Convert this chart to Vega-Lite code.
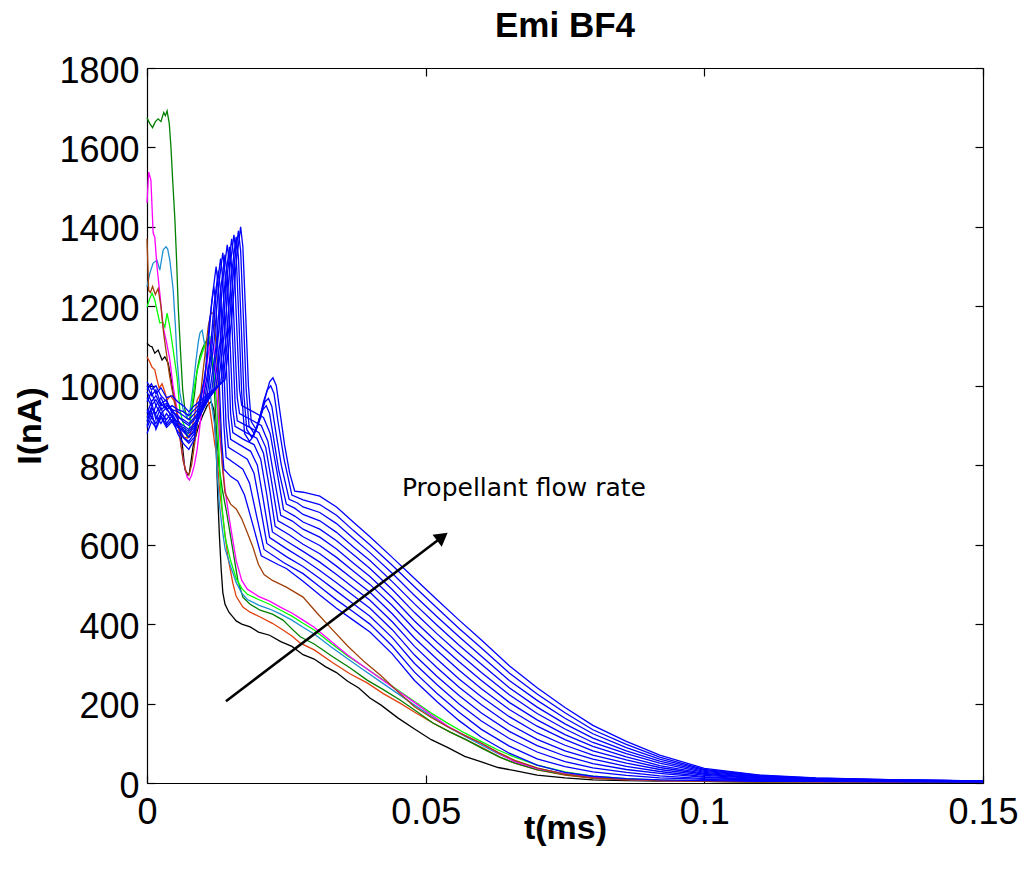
{
"$schema": "https://vega.github.io/schema/vega-lite/v6.json",
"width": 836, "height": 715,
"autosize": {"type": "none"},
"padding": {"left": 147, "top": 68, "right": 41, "bottom": 84},
"background": "white",
"title": {"text": "Emi BF4", "fontSize": 35, "fontWeight": "bold", "font": "Liberation Sans", "color": "black", "offset": 9, "anchor": "middle"},
"datasets": {
"curves": [
{"s":"k","t":0,"v":1107},{"s":"k","t":0.0005,"v":1100},{"s":"k","t":0.0009,"v":1098},{"s":"k","t":0.0014,"v":1082},{"s":"k","t":0.002,"v":1090},{"s":"k","t":0.0027,"v":1065},{"s":"k","t":0.0032,"v":1073},{"s":"k","t":0.0038,"v":1057},{"s":"k","t":0.0043,"v":1020},{"s":"k","t":0.0047,"v":982},{"s":"k","t":0.0052,"v":950},{"s":"k","t":0.0056,"v":914},{"s":"k","t":0.0063,"v":856},{"s":"k","t":0.0068,"v":790},{"s":"k","t":0.0072,"v":775},{"s":"k","t":0.0076,"v":780},{"s":"k","t":0.0083,"v":850},{"s":"k","t":0.0092,"v":896},{"s":"k","t":0.01,"v":925},{"s":"k","t":0.0108,"v":950},{"s":"k","t":0.0115,"v":960},{"s":"k","t":0.012,"v":940},{"s":"k","t":0.0124,"v":850},{"s":"k","t":0.0127,"v":720},{"s":"k","t":0.013,"v":620},{"s":"k","t":0.0133,"v":540},{"s":"k","t":0.0136,"v":480},{"s":"k","t":0.014,"v":450},{"s":"k","t":0.0147,"v":430},{"s":"k","t":0.0154,"v":418},{"s":"k","t":0.016,"v":408},{"s":"k","t":0.017,"v":400},{"s":"k","t":0.0185,"v":393},{"s":"k","t":0.02,"v":380},{"s":"k","t":0.022,"v":372},{"s":"k","t":0.024,"v":356},{"s":"k","t":0.026,"v":344},{"s":"k","t":0.028,"v":323},{"s":"k","t":0.03,"v":312},{"s":"k","t":0.032,"v":293},{"s":"k","t":0.034,"v":278},{"s":"k","t":0.036,"v":256},{"s":"k","t":0.038,"v":239},{"s":"k","t":0.04,"v":214},{"s":"k","t":0.042,"v":196},{"s":"k","t":0.045,"v":164},{"s":"k","t":0.048,"v":136},{"s":"k","t":0.051,"v":109},{"s":"k","t":0.054,"v":89},{"s":"k","t":0.057,"v":67},{"s":"k","t":0.06,"v":53},{"s":"k","t":0.063,"v":39},{"s":"k","t":0.066,"v":31},{"s":"k","t":0.07,"v":20},{"s":"k","t":0.075,"v":13},{"s":"k","t":0.08,"v":8},{"s":"k","t":0.086,"v":6},{"s":"k","t":0.092,"v":5},{"s":"k","t":0.1,"v":4},{"s":"k","t":0.11,"v":3},{"s":"k","t":0.12,"v":3},{"s":"k","t":0.135,"v":2},{"s":"k","t":0.15,"v":2},
{"s":"r","t":0,"v":1073},{"s":"r","t":0.0005,"v":1060},{"s":"r","t":0.0009,"v":1047},{"s":"r","t":0.0014,"v":1040},{"s":"r","t":0.0018,"v":1015},{"s":"r","t":0.0022,"v":994},{"s":"r","t":0.0027,"v":1005},{"s":"r","t":0.0032,"v":985},{"s":"r","t":0.0036,"v":964},{"s":"r","t":0.0042,"v":975},{"s":"r","t":0.0048,"v":964},{"s":"r","t":0.0054,"v":930},{"s":"r","t":0.0059,"v":889},{"s":"r","t":0.0066,"v":871},{"s":"r","t":0.0072,"v":868},{"s":"r","t":0.0078,"v":880},{"s":"r","t":0.0084,"v":915},{"s":"r","t":0.009,"v":964},{"s":"r","t":0.0096,"v":980},{"s":"r","t":0.0102,"v":989},{"s":"r","t":0.0108,"v":975},{"s":"r","t":0.0113,"v":939},{"s":"r","t":0.0118,"v":890},{"s":"r","t":0.0122,"v":850},{"s":"r","t":0.0126,"v":820},{"s":"r","t":0.013,"v":740},{"s":"r","t":0.0136,"v":670},{"s":"r","t":0.0145,"v":570},{"s":"r","t":0.0154,"v":503},{"s":"r","t":0.016,"v":470},{"s":"r","t":0.0172,"v":443},{"s":"r","t":0.0185,"v":430},{"s":"r","t":0.0203,"v":418},{"s":"r","t":0.0225,"v":402},{"s":"r","t":0.0244,"v":385},{"s":"r","t":0.026,"v":370},{"s":"r","t":0.0275,"v":352},{"s":"r","t":0.03,"v":335},{"s":"r","t":0.0334,"v":302},{"s":"r","t":0.0364,"v":275},{"s":"r","t":0.0395,"v":252},{"s":"r","t":0.0424,"v":225},{"s":"r","t":0.0454,"v":201},{"s":"r","t":0.0484,"v":175},{"s":"r","t":0.0513,"v":151},{"s":"r","t":0.0544,"v":128},{"s":"r","t":0.0574,"v":108},{"s":"r","t":0.0603,"v":88},{"s":"r","t":0.0633,"v":65},{"s":"r","t":0.066,"v":50},{"s":"r","t":0.07,"v":33},{"s":"r","t":0.075,"v":20},{"s":"r","t":0.08,"v":12},{"s":"r","t":0.086,"v":8},{"s":"r","t":0.092,"v":6},{"s":"r","t":0.1,"v":4},{"s":"r","t":0.11,"v":3},{"s":"r","t":0.12,"v":3},{"s":"r","t":0.135,"v":2},{"s":"r","t":0.15,"v":2},
{"s":"g","t":0,"v":1675},{"s":"g","t":0.0005,"v":1660},{"s":"g","t":0.001,"v":1650},{"s":"g","t":0.0015,"v":1665},{"s":"g","t":0.002,"v":1672},{"s":"g","t":0.0025,"v":1665},{"s":"g","t":0.003,"v":1688},{"s":"g","t":0.0033,"v":1680},{"s":"g","t":0.0036,"v":1692},{"s":"g","t":0.004,"v":1660},{"s":"g","t":0.0043,"v":1600},{"s":"g","t":0.0046,"v":1520},{"s":"g","t":0.005,"v":1420},{"s":"g","t":0.0053,"v":1320},{"s":"g","t":0.0056,"v":1200},{"s":"g","t":0.006,"v":1090},{"s":"g","t":0.0064,"v":990},{"s":"g","t":0.0068,"v":940},{"s":"g","t":0.0072,"v":918},{"s":"g","t":0.0076,"v":915},{"s":"g","t":0.008,"v":935},{"s":"g","t":0.0085,"v":975},{"s":"g","t":0.009,"v":1040},{"s":"g","t":0.0095,"v":1075},{"s":"g","t":0.01,"v":1095},{"s":"g","t":0.0105,"v":1110},{"s":"g","t":0.011,"v":1120},{"s":"g","t":0.0115,"v":1090},{"s":"g","t":0.012,"v":1010},{"s":"g","t":0.0125,"v":880},{"s":"g","t":0.0129,"v":800},{"s":"g","t":0.0135,"v":740},{"s":"g","t":0.0143,"v":680},{"s":"g","t":0.0154,"v":587},{"s":"g","t":0.0163,"v":510},{"s":"g","t":0.0172,"v":468},{"s":"g","t":0.0185,"v":450},{"s":"g","t":0.0203,"v":435},{"s":"g","t":0.0225,"v":425},{"s":"g","t":0.0244,"v":410},{"s":"g","t":0.026,"v":388},{"s":"g","t":0.0275,"v":368},{"s":"g","t":0.03,"v":350},{"s":"g","t":0.0334,"v":317},{"s":"g","t":0.0364,"v":290},{"s":"g","t":0.0395,"v":259},{"s":"g","t":0.0424,"v":235},{"s":"g","t":0.0454,"v":209},{"s":"g","t":0.0484,"v":180},{"s":"g","t":0.0513,"v":151},{"s":"g","t":0.0544,"v":128},{"s":"g","t":0.0574,"v":108},{"s":"g","t":0.0603,"v":86},{"s":"g","t":0.0633,"v":65},{"s":"g","t":0.066,"v":50},{"s":"g","t":0.07,"v":34},{"s":"g","t":0.075,"v":21},{"s":"g","t":0.08,"v":13},{"s":"g","t":0.086,"v":9},{"s":"g","t":0.092,"v":6},{"s":"g","t":0.1,"v":4},{"s":"g","t":0.11,"v":3},{"s":"g","t":0.12,"v":3},{"s":"g","t":0.135,"v":2},{"s":"g","t":0.15,"v":2},
{"s":"c","t":0,"v":1249},{"s":"c","t":0.0005,"v":1283},{"s":"c","t":0.0011,"v":1309},{"s":"c","t":0.0018,"v":1316},{"s":"c","t":0.0023,"v":1291},{"s":"c","t":0.0029,"v":1342},{"s":"c","t":0.0034,"v":1350},{"s":"c","t":0.0037,"v":1345},{"s":"c","t":0.0041,"v":1316},{"s":"c","t":0.0047,"v":1241},{"s":"c","t":0.0051,"v":1150},{"s":"c","t":0.0054,"v":1065},{"s":"c","t":0.0059,"v":982},{"s":"c","t":0.0065,"v":939},{"s":"c","t":0.0072,"v":922},{"s":"c","t":0.0077,"v":935},{"s":"c","t":0.0083,"v":1000},{"s":"c","t":0.0088,"v":1065},{"s":"c","t":0.0092,"v":1110},{"s":"c","t":0.0095,"v":1133},{"s":"c","t":0.0099,"v":1140},{"s":"c","t":0.0104,"v":1098},{"s":"c","t":0.0113,"v":982},{"s":"c","t":0.0122,"v":896},{"s":"c","t":0.0126,"v":780},{"s":"c","t":0.013,"v":700},{"s":"c","t":0.0135,"v":640},{"s":"c","t":0.014,"v":590},{"s":"c","t":0.015,"v":545},{"s":"c","t":0.016,"v":505},{"s":"c","t":0.017,"v":478},{"s":"c","t":0.018,"v":462},{"s":"c","t":0.02,"v":448},{"s":"c","t":0.022,"v":438},{"s":"c","t":0.024,"v":425},{"s":"c","t":0.026,"v":410},{"s":"c","t":0.028,"v":392},{"s":"c","t":0.03,"v":375},{"s":"c","t":0.033,"v":343},{"s":"c","t":0.036,"v":313},{"s":"c","t":0.039,"v":283},{"s":"c","t":0.042,"v":254},{"s":"c","t":0.045,"v":225},{"s":"c","t":0.048,"v":196},{"s":"c","t":0.051,"v":168},{"s":"c","t":0.054,"v":141},{"s":"c","t":0.057,"v":118},{"s":"c","t":0.06,"v":96},{"s":"c","t":0.063,"v":74},{"s":"c","t":0.066,"v":55},{"s":"c","t":0.07,"v":37},{"s":"c","t":0.075,"v":23},{"s":"c","t":0.08,"v":14},{"s":"c","t":0.086,"v":9},{"s":"c","t":0.092,"v":6},{"s":"c","t":0.1,"v":5},{"s":"c","t":0.11,"v":4},{"s":"c","t":0.12,"v":3},{"s":"c","t":0.135,"v":3},{"s":"c","t":0.15,"v":2},
{"s":"l","t":0,"v":1198},{"s":"l","t":0.0005,"v":1220},{"s":"l","t":0.0009,"v":1233},{"s":"l","t":0.0014,"v":1216},{"s":"l","t":0.0018,"v":1190},{"s":"l","t":0.0023,"v":1158},{"s":"l","t":0.0028,"v":1160},{"s":"l","t":0.0032,"v":1148},{"s":"l","t":0.0036,"v":1183},{"s":"l","t":0.0041,"v":1148},{"s":"l","t":0.0047,"v":1090},{"s":"l","t":0.0054,"v":1022},{"s":"l","t":0.0059,"v":939},{"s":"l","t":0.0064,"v":910},{"s":"l","t":0.0068,"v":896},{"s":"l","t":0.0072,"v":871},{"s":"l","t":0.0077,"v":900},{"s":"l","t":0.0083,"v":982},{"s":"l","t":0.0089,"v":1030},{"s":"l","t":0.0095,"v":1065},{"s":"l","t":0.0102,"v":1095},{"s":"l","t":0.0108,"v":1115},{"s":"l","t":0.0113,"v":1123},{"s":"l","t":0.0118,"v":1065},{"s":"l","t":0.0122,"v":1000},{"s":"l","t":0.0126,"v":939},{"s":"l","t":0.0131,"v":770},{"s":"l","t":0.0135,"v":690},{"s":"l","t":0.014,"v":620},{"s":"l","t":0.015,"v":560},{"s":"l","t":0.016,"v":515},{"s":"l","t":0.017,"v":490},{"s":"l","t":0.018,"v":475},{"s":"l","t":0.02,"v":462},{"s":"l","t":0.022,"v":450},{"s":"l","t":0.024,"v":435},{"s":"l","t":0.026,"v":420},{"s":"l","t":0.028,"v":402},{"s":"l","t":0.03,"v":385},{"s":"l","t":0.033,"v":352},{"s":"l","t":0.036,"v":320},{"s":"l","t":0.039,"v":292},{"s":"l","t":0.042,"v":263},{"s":"l","t":0.045,"v":234},{"s":"l","t":0.048,"v":205},{"s":"l","t":0.051,"v":176},{"s":"l","t":0.054,"v":150},{"s":"l","t":0.057,"v":126},{"s":"l","t":0.06,"v":104},{"s":"l","t":0.063,"v":83},{"s":"l","t":0.066,"v":65},{"s":"l","t":0.07,"v":45},{"s":"l","t":0.075,"v":28},{"s":"l","t":0.08,"v":17},{"s":"l","t":0.086,"v":11},{"s":"l","t":0.092,"v":7},{"s":"l","t":0.1,"v":5},{"s":"l","t":0.11,"v":4},{"s":"l","t":0.12,"v":3},{"s":"l","t":0.135,"v":3},{"s":"l","t":0.15,"v":2},
{"s":"m","t":0,"v":1460},{"s":"m","t":0.0003,"v":1538},{"s":"m","t":0.0007,"v":1518},{"s":"m","t":0.0011,"v":1385},{"s":"m","t":0.0014,"v":1374},{"s":"m","t":0.0018,"v":1299},{"s":"m","t":0.0023,"v":1233},{"s":"m","t":0.0029,"v":1148},{"s":"m","t":0.0035,"v":1110},{"s":"m","t":0.0041,"v":1065},{"s":"m","t":0.0047,"v":997},{"s":"m","t":0.0054,"v":939},{"s":"m","t":0.0059,"v":871},{"s":"m","t":0.0065,"v":813},{"s":"m","t":0.0072,"v":770},{"s":"m","t":0.0076,"v":763},{"s":"m","t":0.008,"v":775},{"s":"m","t":0.0085,"v":800},{"s":"m","t":0.009,"v":840},{"s":"m","t":0.0095,"v":900},{"s":"m","t":0.01,"v":960},{"s":"m","t":0.0105,"v":1030},{"s":"m","t":0.011,"v":1080},{"s":"m","t":0.0115,"v":1115},{"s":"m","t":0.012,"v":1100},{"s":"m","t":0.0125,"v":990},{"s":"m","t":0.013,"v":880},{"s":"m","t":0.0135,"v":810},{"s":"m","t":0.014,"v":740},{"s":"m","t":0.0145,"v":690},{"s":"m","t":0.015,"v":645},{"s":"m","t":0.016,"v":560},{"s":"m","t":0.017,"v":510},{"s":"m","t":0.018,"v":488},{"s":"m","t":0.02,"v":470},{"s":"m","t":0.022,"v":458},{"s":"m","t":0.024,"v":442},{"s":"m","t":0.026,"v":428},{"s":"m","t":0.028,"v":410},{"s":"m","t":0.03,"v":392},{"s":"m","t":0.033,"v":357},{"s":"m","t":0.036,"v":322},{"s":"m","t":0.039,"v":292},{"s":"m","t":0.042,"v":262},{"s":"m","t":0.045,"v":232},{"s":"m","t":0.048,"v":203},{"s":"m","t":0.051,"v":172},{"s":"m","t":0.054,"v":143},{"s":"m","t":0.057,"v":120},{"s":"m","t":0.06,"v":100},{"s":"m","t":0.063,"v":76},{"s":"m","t":0.066,"v":54},{"s":"m","t":0.07,"v":36},{"s":"m","t":0.075,"v":23},{"s":"m","t":0.08,"v":14},{"s":"m","t":0.086,"v":9},{"s":"m","t":0.092,"v":6},{"s":"m","t":0.1,"v":5},{"s":"m","t":0.11,"v":4},{"s":"m","t":0.12,"v":3},{"s":"m","t":0.135,"v":3},{"s":"m","t":0.15,"v":2},
{"s":"n","t":0,"v":1370},{"s":"n","t":0.0003,"v":1240},{"s":"n","t":0.0006,"v":1235},{"s":"n","t":0.001,"v":1250},{"s":"n","t":0.0015,"v":1230},{"s":"n","t":0.002,"v":1245},{"s":"n","t":0.0025,"v":1200},{"s":"n","t":0.003,"v":1130},{"s":"n","t":0.0035,"v":1080},{"s":"n","t":0.004,"v":1030},{"s":"n","t":0.0045,"v":990},{"s":"n","t":0.005,"v":960},{"s":"n","t":0.0055,"v":920},{"s":"n","t":0.006,"v":860},{"s":"n","t":0.0065,"v":810},{"s":"n","t":0.007,"v":785},{"s":"n","t":0.0075,"v":775},{"s":"n","t":0.008,"v":800},{"s":"n","t":0.0085,"v":850},{"s":"n","t":0.009,"v":900},{"s":"n","t":0.0095,"v":960},{"s":"n","t":0.01,"v":1030},{"s":"n","t":0.0105,"v":1090},{"s":"n","t":0.011,"v":1150},{"s":"n","t":0.0115,"v":1185},{"s":"n","t":0.012,"v":1180},{"s":"n","t":0.0125,"v":1080},{"s":"n","t":0.013,"v":930},{"s":"n","t":0.0135,"v":800},{"s":"n","t":0.014,"v":730},{"s":"n","t":0.015,"v":702},{"s":"n","t":0.016,"v":690},{"s":"n","t":0.017,"v":665},{"s":"n","t":0.018,"v":630},{"s":"n","t":0.019,"v":594},{"s":"n","t":0.02,"v":550},{"s":"n","t":0.021,"v":525},{"s":"n","t":0.0225,"v":510},{"s":"n","t":0.025,"v":493},{"s":"n","t":0.028,"v":468},{"s":"n","t":0.0305,"v":428},{"s":"n","t":0.033,"v":390},{"s":"n","t":0.036,"v":345},{"s":"n","t":0.039,"v":305},{"s":"n","t":0.042,"v":270},{"s":"n","t":0.045,"v":230},{"s":"n","t":0.048,"v":192},{"s":"n","t":0.051,"v":165},{"s":"n","t":0.054,"v":141},{"s":"n","t":0.057,"v":120},{"s":"n","t":0.06,"v":100},{"s":"n","t":0.063,"v":77},{"s":"n","t":0.066,"v":57},{"s":"n","t":0.07,"v":38},{"s":"n","t":0.075,"v":22},{"s":"n","t":0.08,"v":13},{"s":"n","t":0.086,"v":9},{"s":"n","t":0.092,"v":6},{"s":"n","t":0.1,"v":4},{"s":"n","t":0.11,"v":3},{"s":"n","t":0.12,"v":3},{"s":"n","t":0.135,"v":2},{"s":"n","t":0.15,"v":2},
{"s":"b01","t":0,"v":930},{"s":"b01","t":0.0008,"v":960},{"s":"b01","t":0.0016,"v":915},{"s":"b01","t":0.0025,"v":945},{"s":"b01","t":0.0035,"v":905},{"s":"b01","t":0.0045,"v":925},{"s":"b01","t":0.0055,"v":880},{"s":"b01","t":0.0065,"v":855},{"s":"b01","t":0.0075,"v":840},{"s":"b01","t":0.0085,"v":865},{"s":"b01","t":0.0092,"v":950},{"s":"b01","t":0.0104,"v":1020},{"s":"b01","t":0.0112,"v":1160},{"s":"b01","t":0.012,"v":1250},{"s":"b01","t":0.0124,"v":1200},{"s":"b01","t":0.0129,"v":1030},{"s":"b01","t":0.0134,"v":860},{"s":"b01","t":0.0138,"v":790},{"s":"b01","t":0.015,"v":772},{"s":"b01","t":0.0163,"v":760},{"s":"b01","t":0.0175,"v":725},{"s":"b01","t":0.019,"v":650},{"s":"b01","t":0.0205,"v":572},{"s":"b01","t":0.0235,"v":550},{"s":"b01","t":0.025,"v":540},{"s":"b01","t":0.028,"v":508},{"s":"b01","t":0.031,"v":473},{"s":"b01","t":0.034,"v":440},{"s":"b01","t":0.037,"v":410},{"s":"b01","t":0.04,"v":380},{"s":"b01","t":0.044,"v":325},{"s":"b01","t":0.048,"v":258},{"s":"b01","t":0.052,"v":205},{"s":"b01","t":0.056,"v":157},{"s":"b01","t":0.06,"v":115},{"s":"b01","t":0.065,"v":75},{"s":"b01","t":0.07,"v":45},{"s":"b01","t":0.075,"v":27},{"s":"b01","t":0.08,"v":17},{"s":"b01","t":0.086,"v":11},{"s":"b01","t":0.092,"v":8},{"s":"b01","t":0.1,"v":6},{"s":"b01","t":0.11,"v":4},{"s":"b01","t":0.12,"v":4},{"s":"b01","t":0.135,"v":3},{"s":"b01","t":0.15,"v":3},
{"s":"b02","t":0,"v":1000},{"s":"b02","t":0.0008,"v":975},{"s":"b02","t":0.0016,"v":990},{"s":"b02","t":0.0025,"v":955},{"s":"b02","t":0.0035,"v":965},{"s":"b02","t":0.0045,"v":930},{"s":"b02","t":0.0055,"v":905},{"s":"b02","t":0.0065,"v":870},{"s":"b02","t":0.0075,"v":855},{"s":"b02","t":0.0085,"v":870},{"s":"b02","t":0.0096,"v":955},{"s":"b02","t":0.0108,"v":1070},{"s":"b02","t":0.0116,"v":1210},{"s":"b02","t":0.0124,"v":1300},{"s":"b02","t":0.0128,"v":1250},{"s":"b02","t":0.0133,"v":1080},{"s":"b02","t":0.0138,"v":900},{"s":"b02","t":0.0142,"v":820},{"s":"b02","t":0.0157,"v":805},{"s":"b02","t":0.0172,"v":790},{"s":"b02","t":0.0184,"v":755},{"s":"b02","t":0.0197,"v":670},{"s":"b02","t":0.021,"v":588},{"s":"b02","t":0.0245,"v":555},{"s":"b02","t":0.028,"v":527},{"s":"b02","t":0.031,"v":494},{"s":"b02","t":0.034,"v":461},{"s":"b02","t":0.037,"v":431},{"s":"b02","t":0.04,"v":400},{"s":"b02","t":0.044,"v":345},{"s":"b02","t":0.048,"v":279},{"s":"b02","t":0.052,"v":226},{"s":"b02","t":0.056,"v":178},{"s":"b02","t":0.06,"v":135},{"s":"b02","t":0.065,"v":93},{"s":"b02","t":0.07,"v":61},{"s":"b02","t":0.075,"v":41},{"s":"b02","t":0.08,"v":28},{"s":"b02","t":0.086,"v":19},{"s":"b02","t":0.092,"v":13},{"s":"b02","t":0.1,"v":9},{"s":"b02","t":0.11,"v":5},{"s":"b02","t":0.12,"v":5},{"s":"b02","t":0.135,"v":4},{"s":"b02","t":0.15,"v":3},
{"s":"b03","t":0,"v":900},{"s":"b03","t":0.0008,"v":935},{"s":"b03","t":0.0016,"v":890},{"s":"b03","t":0.0025,"v":920},{"s":"b03","t":0.0035,"v":895},{"s":"b03","t":0.0045,"v":910},{"s":"b03","t":0.0055,"v":885},{"s":"b03","t":0.0065,"v":870},{"s":"b03","t":0.0075,"v":860},{"s":"b03","t":0.0085,"v":880},{"s":"b03","t":0.01,"v":960},{"s":"b03","t":0.0112,"v":1060},{"s":"b03","t":0.012,"v":1200},{"s":"b03","t":0.0128,"v":1290},{"s":"b03","t":0.0132,"v":1240},{"s":"b03","t":0.0137,"v":1070},{"s":"b03","t":0.0142,"v":900},{"s":"b03","t":0.0146,"v":845},{"s":"b03","t":0.0163,"v":830},{"s":"b03","t":0.018,"v":815},{"s":"b03","t":0.0192,"v":780},{"s":"b03","t":0.0204,"v":690},{"s":"b03","t":0.0215,"v":603},{"s":"b03","t":0.025,"v":570},{"s":"b03","t":0.028,"v":545},{"s":"b03","t":0.031,"v":515},{"s":"b03","t":0.034,"v":483},{"s":"b03","t":0.037,"v":451},{"s":"b03","t":0.04,"v":420},{"s":"b03","t":0.044,"v":366},{"s":"b03","t":0.048,"v":301},{"s":"b03","t":0.052,"v":248},{"s":"b03","t":0.056,"v":199},{"s":"b03","t":0.06,"v":156},{"s":"b03","t":0.065,"v":112},{"s":"b03","t":0.07,"v":78},{"s":"b03","t":0.075,"v":54},{"s":"b03","t":0.08,"v":38},{"s":"b03","t":0.086,"v":27},{"s":"b03","t":0.092,"v":18},{"s":"b03","t":0.1,"v":11},{"s":"b03","t":0.11,"v":7},{"s":"b03","t":0.12,"v":5},{"s":"b03","t":0.135,"v":4},{"s":"b03","t":0.15,"v":3},
{"s":"b04","t":0,"v":960},{"s":"b04","t":0.0008,"v":985},{"s":"b04","t":0.0016,"v":950},{"s":"b04","t":0.0025,"v":970},{"s":"b04","t":0.0035,"v":940},{"s":"b04","t":0.0045,"v":925},{"s":"b04","t":0.0055,"v":900},{"s":"b04","t":0.0065,"v":885},{"s":"b04","t":0.0075,"v":870},{"s":"b04","t":0.0085,"v":885},{"s":"b04","t":0.0104,"v":965},{"s":"b04","t":0.0116,"v":1090},{"s":"b04","t":0.0124,"v":1230},{"s":"b04","t":0.0132,"v":1320},{"s":"b04","t":0.0136,"v":1270},{"s":"b04","t":0.0141,"v":1100},{"s":"b04","t":0.0146,"v":920},{"s":"b04","t":0.015,"v":865},{"s":"b04","t":0.0168,"v":850},{"s":"b04","t":0.0186,"v":835},{"s":"b04","t":0.0198,"v":800},{"s":"b04","t":0.0209,"v":710},{"s":"b04","t":0.022,"v":618},{"s":"b04","t":0.025,"v":590},{"s":"b04","t":0.028,"v":564},{"s":"b04","t":0.031,"v":535},{"s":"b04","t":0.034,"v":504},{"s":"b04","t":0.037,"v":472},{"s":"b04","t":0.04,"v":440},{"s":"b04","t":0.044,"v":386},{"s":"b04","t":0.048,"v":322},{"s":"b04","t":0.052,"v":269},{"s":"b04","t":0.056,"v":220},{"s":"b04","t":0.06,"v":176},{"s":"b04","t":0.065,"v":130},{"s":"b04","t":0.07,"v":94},{"s":"b04","t":0.075,"v":68},{"s":"b04","t":0.08,"v":49},{"s":"b04","t":0.086,"v":34},{"s":"b04","t":0.092,"v":24},{"s":"b04","t":0.1,"v":14},{"s":"b04","t":0.11,"v":8},{"s":"b04","t":0.12,"v":6},{"s":"b04","t":0.135,"v":5},{"s":"b04","t":0.15,"v":4},
{"s":"b05","t":0,"v":880},{"s":"b05","t":0.0008,"v":910},{"s":"b05","t":0.0016,"v":895},{"s":"b05","t":0.0025,"v":925},{"s":"b05","t":0.0035,"v":900},{"s":"b05","t":0.0045,"v":915},{"s":"b05","t":0.0055,"v":895},{"s":"b05","t":0.0065,"v":890},{"s":"b05","t":0.0075,"v":880},{"s":"b05","t":0.0085,"v":895},{"s":"b05","t":0.0108,"v":975},{"s":"b05","t":0.012,"v":1105},{"s":"b05","t":0.0128,"v":1245},{"s":"b05","t":0.0136,"v":1335},{"s":"b05","t":0.014,"v":1285},{"s":"b05","t":0.0145,"v":1115},{"s":"b05","t":0.015,"v":930},{"s":"b05","t":0.0154,"v":882},{"s":"b05","t":0.0173,"v":865},{"s":"b05","t":0.0192,"v":852},{"s":"b05","t":0.0204,"v":815},{"s":"b05","t":0.0215,"v":725},{"s":"b05","t":0.0225,"v":632},{"s":"b05","t":0.0255,"v":605},{"s":"b05","t":0.028,"v":583},{"s":"b05","t":0.031,"v":556},{"s":"b05","t":0.034,"v":525},{"s":"b05","t":0.037,"v":492},{"s":"b05","t":0.04,"v":460},{"s":"b05","t":0.044,"v":406},{"s":"b05","t":0.048,"v":344},{"s":"b05","t":0.052,"v":291},{"s":"b05","t":0.056,"v":241},{"s":"b05","t":0.06,"v":197},{"s":"b05","t":0.065,"v":148},{"s":"b05","t":0.07,"v":110},{"s":"b05","t":0.075,"v":81},{"s":"b05","t":0.08,"v":60},{"s":"b05","t":0.086,"v":42},{"s":"b05","t":0.092,"v":29},{"s":"b05","t":0.1,"v":16},{"s":"b05","t":0.11,"v":9},{"s":"b05","t":0.12,"v":7},{"s":"b05","t":0.135,"v":5},{"s":"b05","t":0.15,"v":4},
{"s":"b06","t":0,"v":1010},{"s":"b06","t":0.0008,"v":990},{"s":"b06","t":0.0016,"v":1000},{"s":"b06","t":0.0025,"v":975},{"s":"b06","t":0.0035,"v":960},{"s":"b06","t":0.0045,"v":940},{"s":"b06","t":0.0055,"v":915},{"s":"b06","t":0.0065,"v":890},{"s":"b06","t":0.0075,"v":870},{"s":"b06","t":0.0085,"v":890},{"s":"b06","t":0.0112,"v":980},{"s":"b06","t":0.0124,"v":1100},{"s":"b06","t":0.0132,"v":1240},{"s":"b06","t":0.014,"v":1330},{"s":"b06","t":0.0144,"v":1280},{"s":"b06","t":0.0149,"v":1110},{"s":"b06","t":0.0154,"v":940},{"s":"b06","t":0.0158,"v":898},{"s":"b06","t":0.0178,"v":882},{"s":"b06","t":0.0197,"v":868},{"s":"b06","t":0.0209,"v":830},{"s":"b06","t":0.022,"v":740},{"s":"b06","t":0.023,"v":646},{"s":"b06","t":0.0255,"v":625},{"s":"b06","t":0.028,"v":601},{"s":"b06","t":0.031,"v":577},{"s":"b06","t":0.034,"v":546},{"s":"b06","t":0.037,"v":513},{"s":"b06","t":0.04,"v":480},{"s":"b06","t":0.044,"v":426},{"s":"b06","t":0.048,"v":365},{"s":"b06","t":0.052,"v":312},{"s":"b06","t":0.056,"v":262},{"s":"b06","t":0.06,"v":217},{"s":"b06","t":0.065,"v":167},{"s":"b06","t":0.07,"v":126},{"s":"b06","t":0.075,"v":95},{"s":"b06","t":0.08,"v":70},{"s":"b06","t":0.086,"v":50},{"s":"b06","t":0.092,"v":34},{"s":"b06","t":0.1,"v":19},{"s":"b06","t":0.11,"v":11},{"s":"b06","t":0.12,"v":8},{"s":"b06","t":0.135,"v":6},{"s":"b06","t":0.15,"v":4},
{"s":"b07","t":0,"v":940},{"s":"b07","t":0.0008,"v":920},{"s":"b07","t":0.0016,"v":950},{"s":"b07","t":0.0025,"v":930},{"s":"b07","t":0.0035,"v":945},{"s":"b07","t":0.0045,"v":920},{"s":"b07","t":0.0055,"v":910},{"s":"b07","t":0.0065,"v":900},{"s":"b07","t":0.0075,"v":890},{"s":"b07","t":0.0085,"v":905},{"s":"b07","t":0.0116,"v":985},{"s":"b07","t":0.0128,"v":1125},{"s":"b07","t":0.0136,"v":1265},{"s":"b07","t":0.0144,"v":1355},{"s":"b07","t":0.0148,"v":1305},{"s":"b07","t":0.0153,"v":1135},{"s":"b07","t":0.0158,"v":960},{"s":"b07","t":0.0162,"v":912},{"s":"b07","t":0.0182,"v":897},{"s":"b07","t":0.0201,"v":882},{"s":"b07","t":0.0213,"v":845},{"s":"b07","t":0.0224,"v":755},{"s":"b07","t":0.0235,"v":660},{"s":"b07","t":0.026,"v":640},{"s":"b07","t":0.028,"v":620},{"s":"b07","t":0.031,"v":598},{"s":"b07","t":0.034,"v":568},{"s":"b07","t":0.037,"v":534},{"s":"b07","t":0.04,"v":500},{"s":"b07","t":0.044,"v":447},{"s":"b07","t":0.048,"v":387},{"s":"b07","t":0.052,"v":334},{"s":"b07","t":0.056,"v":284},{"s":"b07","t":0.06,"v":237},{"s":"b07","t":0.065,"v":185},{"s":"b07","t":0.07,"v":143},{"s":"b07","t":0.075,"v":109},{"s":"b07","t":0.08,"v":81},{"s":"b07","t":0.086,"v":58},{"s":"b07","t":0.092,"v":39},{"s":"b07","t":0.1,"v":22},{"s":"b07","t":0.11,"v":12},{"s":"b07","t":0.12,"v":8},{"s":"b07","t":0.135,"v":6},{"s":"b07","t":0.15,"v":4},
{"s":"b08","t":0,"v":910},{"s":"b08","t":0.0008,"v":945},{"s":"b08","t":0.0016,"v":925},{"s":"b08","t":0.0025,"v":905},{"s":"b08","t":0.0035,"v":930},{"s":"b08","t":0.0045,"v":910},{"s":"b08","t":0.0055,"v":900},{"s":"b08","t":0.0065,"v":895},{"s":"b08","t":0.0075,"v":885},{"s":"b08","t":0.0085,"v":900},{"s":"b08","t":0.012,"v":990},{"s":"b08","t":0.0132,"v":1120},{"s":"b08","t":0.014,"v":1260},{"s":"b08","t":0.0148,"v":1350},{"s":"b08","t":0.0152,"v":1300},{"s":"b08","t":0.0157,"v":1130},{"s":"b08","t":0.0162,"v":970},{"s":"b08","t":0.0166,"v":930},{"s":"b08","t":0.0186,"v":915},{"s":"b08","t":0.0205,"v":900},{"s":"b08","t":0.0217,"v":860},{"s":"b08","t":0.0228,"v":770},{"s":"b08","t":0.024,"v":674},{"s":"b08","t":0.026,"v":660},{"s":"b08","t":0.028,"v":639},{"s":"b08","t":0.031,"v":619},{"s":"b08","t":0.034,"v":589},{"s":"b08","t":0.037,"v":554},{"s":"b08","t":0.04,"v":520},{"s":"b08","t":0.044,"v":467},{"s":"b08","t":0.048,"v":408},{"s":"b08","t":0.052,"v":355},{"s":"b08","t":0.056,"v":305},{"s":"b08","t":0.06,"v":258},{"s":"b08","t":0.065,"v":203},{"s":"b08","t":0.07,"v":159},{"s":"b08","t":0.075,"v":122},{"s":"b08","t":0.08,"v":92},{"s":"b08","t":0.086,"v":66},{"s":"b08","t":0.092,"v":44},{"s":"b08","t":0.1,"v":24},{"s":"b08","t":0.11,"v":13},{"s":"b08","t":0.12,"v":9},{"s":"b08","t":0.135,"v":6},{"s":"b08","t":0.15,"v":5},
{"s":"b09","t":0,"v":985},{"s":"b09","t":0.0008,"v":960},{"s":"b09","t":0.0016,"v":975},{"s":"b09","t":0.0025,"v":950},{"s":"b09","t":0.0035,"v":955},{"s":"b09","t":0.0045,"v":935},{"s":"b09","t":0.0055,"v":925},{"s":"b09","t":0.0065,"v":910},{"s":"b09","t":0.0075,"v":900},{"s":"b09","t":0.0085,"v":915},{"s":"b09","t":0.0124,"v":995},{"s":"b09","t":0.0136,"v":1140},{"s":"b09","t":0.0144,"v":1280},{"s":"b09","t":0.0152,"v":1370},{"s":"b09","t":0.0156,"v":1320},{"s":"b09","t":0.0161,"v":1150},{"s":"b09","t":0.0166,"v":990},{"s":"b09","t":0.017,"v":950},{"s":"b09","t":0.019,"v":935},{"s":"b09","t":0.0209,"v":920},{"s":"b09","t":0.0221,"v":880},{"s":"b09","t":0.0233,"v":785},{"s":"b09","t":0.0245,"v":688},{"s":"b09","t":0.0265,"v":672},{"s":"b09","t":0.028,"v":657},{"s":"b09","t":0.031,"v":639},{"s":"b09","t":0.034,"v":610},{"s":"b09","t":0.037,"v":575},{"s":"b09","t":0.04,"v":540},{"s":"b09","t":0.044,"v":487},{"s":"b09","t":0.048,"v":429},{"s":"b09","t":0.052,"v":376},{"s":"b09","t":0.056,"v":326},{"s":"b09","t":0.06,"v":278},{"s":"b09","t":0.065,"v":222},{"s":"b09","t":0.07,"v":175},{"s":"b09","t":0.075,"v":136},{"s":"b09","t":0.08,"v":102},{"s":"b09","t":0.086,"v":74},{"s":"b09","t":0.092,"v":50},{"s":"b09","t":0.1,"v":27},{"s":"b09","t":0.11,"v":15},{"s":"b09","t":0.12,"v":10},{"s":"b09","t":0.135,"v":7},{"s":"b09","t":0.15,"v":5},
{"s":"b10","t":0,"v":895},{"s":"b10","t":0.0008,"v":920},{"s":"b10","t":0.0016,"v":905},{"s":"b10","t":0.0025,"v":930},{"s":"b10","t":0.0035,"v":915},{"s":"b10","t":0.0045,"v":935},{"s":"b10","t":0.0055,"v":920},{"s":"b10","t":0.0065,"v":915},{"s":"b10","t":0.0075,"v":905},{"s":"b10","t":0.0085,"v":920},{"s":"b10","t":0.0128,"v":1000},{"s":"b10","t":0.014,"v":1150},{"s":"b10","t":0.0148,"v":1290},{"s":"b10","t":0.0156,"v":1380},{"s":"b10","t":0.016,"v":1330},{"s":"b10","t":0.0165,"v":1160},{"s":"b10","t":0.017,"v":980},{"s":"b10","t":0.0175,"v":880},{"s":"b10","t":0.0184,"v":860},{"s":"b10","t":0.0192,"v":875},{"s":"b10","t":0.0201,"v":915},{"s":"b10","t":0.0208,"v":940},{"s":"b10","t":0.0214,"v":950},{"s":"b10","t":0.022,"v":930},{"s":"b10","t":0.0227,"v":870},{"s":"b10","t":0.0236,"v":790},{"s":"b10","t":0.025,"v":702},{"s":"b10","t":0.0265,"v":692},{"s":"b10","t":0.028,"v":676},{"s":"b10","t":0.031,"v":660},{"s":"b10","t":0.034,"v":631},{"s":"b10","t":0.037,"v":595},{"s":"b10","t":0.04,"v":560},{"s":"b10","t":0.044,"v":507},{"s":"b10","t":0.048,"v":451},{"s":"b10","t":0.052,"v":398},{"s":"b10","t":0.056,"v":347},{"s":"b10","t":0.06,"v":299},{"s":"b10","t":0.065,"v":240},{"s":"b10","t":0.07,"v":191},{"s":"b10","t":0.075,"v":149},{"s":"b10","t":0.08,"v":113},{"s":"b10","t":0.086,"v":81},{"s":"b10","t":0.092,"v":55},{"s":"b10","t":0.1,"v":29},{"s":"b10","t":0.11,"v":16},{"s":"b10","t":0.12,"v":11},{"s":"b10","t":0.135,"v":7},{"s":"b10","t":0.15,"v":5},
{"s":"b11","t":0,"v":970},{"s":"b11","t":0.0008,"v":950},{"s":"b11","t":0.0016,"v":965},{"s":"b11","t":0.0025,"v":940},{"s":"b11","t":0.0035,"v":950},{"s":"b11","t":0.0045,"v":940},{"s":"b11","t":0.0055,"v":935},{"s":"b11","t":0.0065,"v":925},{"s":"b11","t":0.0075,"v":915},{"s":"b11","t":0.0085,"v":930},{"s":"b11","t":0.0132,"v":1005},{"s":"b11","t":0.0144,"v":1145},{"s":"b11","t":0.0152,"v":1285},{"s":"b11","t":0.016,"v":1375},{"s":"b11","t":0.0164,"v":1325},{"s":"b11","t":0.0169,"v":1155},{"s":"b11","t":0.0174,"v":975},{"s":"b11","t":0.0179,"v":890},{"s":"b11","t":0.0188,"v":870},{"s":"b11","t":0.0196,"v":890},{"s":"b11","t":0.0205,"v":935},{"s":"b11","t":0.0212,"v":960},{"s":"b11","t":0.0218,"v":968},{"s":"b11","t":0.0224,"v":948},{"s":"b11","t":0.0231,"v":885},{"s":"b11","t":0.0241,"v":800},{"s":"b11","t":0.0255,"v":714},{"s":"b11","t":0.027,"v":705},{"s":"b11","t":0.028,"v":695},{"s":"b11","t":0.031,"v":681},{"s":"b11","t":0.034,"v":653},{"s":"b11","t":0.037,"v":616},{"s":"b11","t":0.04,"v":580},{"s":"b11","t":0.044,"v":528},{"s":"b11","t":0.048,"v":472},{"s":"b11","t":0.052,"v":419},{"s":"b11","t":0.056,"v":368},{"s":"b11","t":0.06,"v":319},{"s":"b11","t":0.065,"v":258},{"s":"b11","t":0.07,"v":208},{"s":"b11","t":0.075,"v":163},{"s":"b11","t":0.08,"v":124},{"s":"b11","t":0.086,"v":89},{"s":"b11","t":0.092,"v":60},{"s":"b11","t":0.1,"v":32},{"s":"b11","t":0.11,"v":17},{"s":"b11","t":0.12,"v":11},{"s":"b11","t":0.135,"v":7},{"s":"b11","t":0.15,"v":5},
{"s":"b12","t":0,"v":920},{"s":"b12","t":0.0008,"v":945},{"s":"b12","t":0.0016,"v":930},{"s":"b12","t":0.0025,"v":955},{"s":"b12","t":0.0035,"v":940},{"s":"b12","t":0.0045,"v":950},{"s":"b12","t":0.0055,"v":940},{"s":"b12","t":0.0065,"v":935},{"s":"b12","t":0.0075,"v":925},{"s":"b12","t":0.0085,"v":940},{"s":"b12","t":0.0136,"v":1010},{"s":"b12","t":0.0148,"v":1160},{"s":"b12","t":0.0156,"v":1300},{"s":"b12","t":0.0164,"v":1390},{"s":"b12","t":0.0168,"v":1340},{"s":"b12","t":0.0173,"v":1170},{"s":"b12","t":0.0178,"v":990},{"s":"b12","t":0.0183,"v":900},{"s":"b12","t":0.0192,"v":880},{"s":"b12","t":0.02,"v":905},{"s":"b12","t":0.0209,"v":960},{"s":"b12","t":0.0216,"v":990},{"s":"b12","t":0.0222,"v":1000},{"s":"b12","t":0.0228,"v":980},{"s":"b12","t":0.0235,"v":910},{"s":"b12","t":0.0246,"v":815},{"s":"b12","t":0.026,"v":725},{"s":"b12","t":0.028,"v":713},{"s":"b12","t":0.031,"v":701},{"s":"b12","t":0.034,"v":674},{"s":"b12","t":0.037,"v":636},{"s":"b12","t":0.04,"v":600},{"s":"b12","t":0.044,"v":548},{"s":"b12","t":0.048,"v":494},{"s":"b12","t":0.052,"v":441},{"s":"b12","t":0.056,"v":389},{"s":"b12","t":0.06,"v":340},{"s":"b12","t":0.065,"v":277},{"s":"b12","t":0.07,"v":224},{"s":"b12","t":0.075,"v":177},{"s":"b12","t":0.08,"v":134},{"s":"b12","t":0.086,"v":97},{"s":"b12","t":0.092,"v":65},{"s":"b12","t":0.1,"v":34},{"s":"b12","t":0.11,"v":19},{"s":"b12","t":0.12,"v":12},{"s":"b12","t":0.135,"v":8},{"s":"b12","t":0.15,"v":5},
{"s":"b13","t":0,"v":990},{"s":"b13","t":0.0008,"v":1005},{"s":"b13","t":0.0016,"v":980},{"s":"b13","t":0.0025,"v":995},{"s":"b13","t":0.0035,"v":970},{"s":"b13","t":0.0045,"v":975},{"s":"b13","t":0.0055,"v":960},{"s":"b13","t":0.0065,"v":950},{"s":"b13","t":0.0075,"v":935},{"s":"b13","t":0.0085,"v":950},{"s":"b13","t":0.014,"v":1015},{"s":"b13","t":0.0152,"v":1170},{"s":"b13","t":0.016,"v":1310},{"s":"b13","t":0.0168,"v":1400},{"s":"b13","t":0.0172,"v":1350},{"s":"b13","t":0.0177,"v":1180},{"s":"b13","t":0.0182,"v":1000},{"s":"b13","t":0.0187,"v":910},{"s":"b13","t":0.0196,"v":890},{"s":"b13","t":0.0204,"v":920},{"s":"b13","t":0.0213,"v":975},{"s":"b13","t":0.022,"v":1010},{"s":"b13","t":0.0226,"v":1020},{"s":"b13","t":0.0232,"v":1000},{"s":"b13","t":0.0239,"v":930},{"s":"b13","t":0.0247,"v":850},{"s":"b13","t":0.0256,"v":780},{"s":"b13","t":0.0265,"v":735},{"s":"b13","t":0.028,"v":732},{"s":"b13","t":0.031,"v":722},{"s":"b13","t":0.034,"v":695},{"s":"b13","t":0.037,"v":657},{"s":"b13","t":0.04,"v":620},{"s":"b13","t":0.044,"v":568},{"s":"b13","t":0.048,"v":515},{"s":"b13","t":0.052,"v":462},{"s":"b13","t":0.056,"v":410},{"s":"b13","t":0.06,"v":360},{"s":"b13","t":0.065,"v":295},{"s":"b13","t":0.07,"v":240},{"s":"b13","t":0.075,"v":190},{"s":"b13","t":0.08,"v":145},{"s":"b13","t":0.086,"v":105},{"s":"b13","t":0.092,"v":70},{"s":"b13","t":0.1,"v":37},{"s":"b13","t":0.11,"v":20},{"s":"b13","t":0.12,"v":13},{"s":"b13","t":0.135,"v":8},{"s":"b13","t":0.15,"v":5}
],
"arrow": [{"t": 0.01417, "v": 206, "t2": 0.0530, "v2": 620}],
"head": [{"t": 0.0530, "v": 620}],
"label": [{"t": 0.04575, "v": 722, "txt": "Propellant flow rate"}]
},
"layer": [
{
"data": {"name": "curves"},
"mark": {"type": "line", "strokeWidth": 1.3},
"encoding": {
"x": {"field": "t", "type": "quantitative", "scale": {"domain": [0, 0.15], "nice": false, "zero": false},
"axis": {"orient": "bottom", "values": [0, 0.05, 0.1, 0.15], "labelExpr": "datum.value < 0.01 ? '0' : datum.value < 0.07 ? '0.05' : datum.value < 0.12 ? '0.1' : '0.15'", "grid": false, "tickSize": -8, "labelPadding": 20, "labelFlush": false, "labelOverlap": false, "labelBound": false, "labelLimit": 0, "title": "t(ms)", "titleX": 418, "titleY": 55, "titleAlign": "center", "titleBaseline": "alphabetic"}},
"y": {"field": "v", "type": "quantitative", "scale": {"domain": [0, 1800], "nice": false},
"axis": {"orient": "left", "values": [0, 200, 400, 600, 800, 1000, 1200, 1400, 1600, 1800], "format": "d", "grid": false, "tickSize": -8, "labelPadding": 16, "labelOffset": 3, "labelFlush": false, "labelOverlap": false, "title": "I(nA)", "titleAngle": -90, "titleX": -117, "titleY": 357.5, "titleAlign": "center", "titleBaseline": "middle"}},
"color": {"field": "s", "type": "nominal", "legend": null, "sort": null,
"scale": {"domain": ["k","r","g","c","l","m","n","b01","b02","b03","b04","b05","b06","b07","b08","b09","b10","b11","b12","b13"],
"range": ["#000000","#e0400e","#008000","#1e8fd0","#00ff00","#ff00ff","#a0400a","#0000ff","#0000ff","#0000ff","#0000ff","#0000ff","#0000ff","#0000ff","#0000ff","#0000ff","#0000ff","#0000ff","#0000ff","#0000ff"]}}
}
},
{
"data": {"name": "arrow"},
"mark": {"type": "rule", "strokeWidth": 2.5, "color": "black"},
"encoding": {
"x": {"field": "t", "type": "quantitative", "axis": {"orient": "top", "values": [0, 0.05, 0.1, 0.15], "labels": false, "grid": false, "tickSize": -8, "title": null}},
"y": {"field": "v", "type": "quantitative", "axis": {"orient": "right", "values": [0, 200, 400, 600, 800, 1000, 1200, 1400, 1600, 1800], "labels": false, "grid": false, "tickSize": -8, "title": null}},
"x2": {"field": "t2"},
"y2": {"field": "v2"}
}
},
{
"data": {"name": "head"},
"mark": {"type": "point", "shape": "triangle-up", "filled": true, "color": "black", "opacity": 1, "size": 230, "angle": 52.8},
"encoding": {
"x": {"field": "t", "type": "quantitative", "axis": null},
"y": {"field": "v", "type": "quantitative", "axis": null}
}
},
{
"data": {"name": "label"},
"mark": {"type": "text", "align": "left", "baseline": "alphabetic", "fontSize": 25, "font": "DejaVu Sans", "color": "black"},
"encoding": {
"x": {"field": "t", "type": "quantitative", "axis": null},
"y": {"field": "v", "type": "quantitative", "axis": null},
"text": {"field": "txt"}
}
}
],
"resolve": {"axis": {"x": "independent", "y": "independent"}},
"config": {
"view": {"stroke": null},
"axis": {"domainColor": "black", "domainWidth": 1.2, "tickColor": "black", "tickWidth": 1.2, "labelColor": "black", "labelFont": "Liberation Sans", "labelFontSize": 36, "titleFont": "Liberation Sans", "titleFontSize": 34, "titleFontWeight": "bold", "titleColor": "black"}
}
}
